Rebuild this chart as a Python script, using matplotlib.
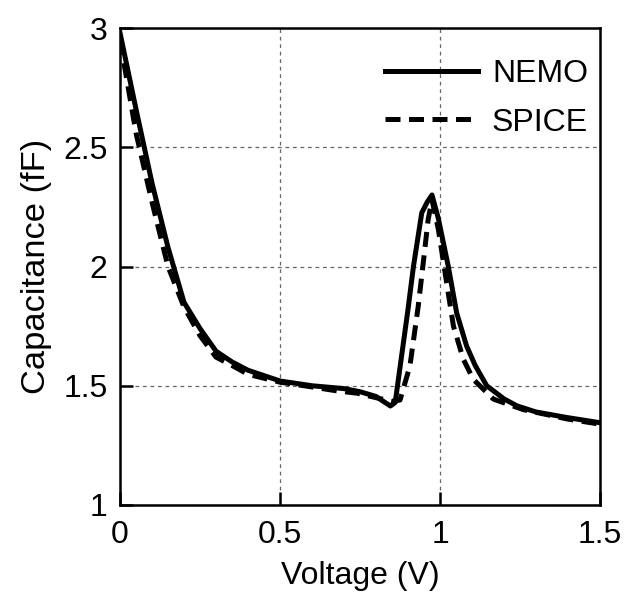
import matplotlib

matplotlib.use("Agg")
import matplotlib.pyplot as plt

plt.rcParams["font.family"] = ["Liberation Sans", "DejaVu Sans"]

# NEMO (solid)
nemo_v = [0.0, 0.05, 0.1, 0.15, 0.2, 0.25, 0.3, 0.35, 0.4, 0.5, 0.6, 0.7,
          0.75, 0.8, 0.845, 0.86, 0.9, 0.917, 0.943, 0.96, 0.975, 0.995,
          1.026, 1.052, 1.083, 1.11, 1.146, 1.2, 1.24, 1.3, 1.396, 1.5]
nemo_c = [2.98, 2.66, 2.35, 2.08, 1.85, 1.74, 1.645, 1.60, 1.565, 1.52, 1.50,
          1.488, 1.475, 1.455, 1.415, 1.43, 1.82, 2.0, 2.225, 2.27, 2.30, 2.20,
          2.0, 1.806, 1.667, 1.585, 1.50, 1.445, 1.416, 1.39, 1.367, 1.345]

# SPICE (dashed)
spice_v = [0.0, 0.05, 0.1, 0.15, 0.2, 0.25, 0.3, 0.35, 0.4, 0.5, 0.6, 0.68,
           0.74, 0.8, 0.85, 0.875, 0.906, 0.932, 0.95, 0.963, 0.975, 0.995,
           1.021, 1.042, 1.073, 1.104, 1.167, 1.26, 1.4, 1.5]
spice_c = [2.95, 2.56, 2.27, 2.00, 1.83, 1.71, 1.62, 1.585, 1.548, 1.515,
           1.495, 1.478, 1.469, 1.45, 1.435, 1.44, 1.583, 1.834, 2.043, 2.197,
           2.28, 2.155, 1.93, 1.75, 1.611, 1.527, 1.444, 1.40, 1.36, 1.339]

xticks = [0, 0.5, 1, 1.5]
xtick_labels = ["0", "0.5", "1", "1.5"]
yticks = [1, 1.5, 2, 2.5, 3]
ytick_labels = ["1", "1.5", "2", "2.5", "3"]


def main():
    fig = plt.figure(figsize=(6.28, 6.0), dpi=100)
    ax = fig.add_axes([120 / 628, 1 - 505 / 600, 480 / 628, 477 / 600])

    ax.plot(nemo_v, nemo_c, color="black", lw=3.6, label="NEMO",
            solid_joinstyle="round")
    ax.plot(spice_v, spice_c, color="black", lw=3.6, ls=(0, (3.0, 1.7)),
            label="SPICE")

    ax.set_xlim(0, 1.5)
    ax.set_ylim(1, 3)
    ax.set_xticks(xticks)
    ax.set_xticklabels(xtick_labels)
    ax.set_yticks(yticks)
    ax.set_yticklabels(ytick_labels)
    ax.tick_params(direction="in", length=9.5, width=1.8, labelsize=23)
    ax.tick_params(axis="x", pad=10.5)
    ax.tick_params(axis="y", pad=9)
    for s in ax.spines.values():
        s.set_linewidth(1.8)

    ax.grid(True, color="#666666", lw=0.9, ls=(0, (3, 3)))

    ax.set_xlabel("Voltage (V)", fontsize=23, labelpad=8)
    ax.set_ylabel("Capacitance (fF)", fontsize=24.8, labelpad=8)

    ax.legend(loc="upper right", frameon=False, fontsize=23,
              handlelength=2.9, handletextpad=0.45, labelspacing=0.58,
              borderaxespad=0.2, bbox_to_anchor=(1.015, 0.975))

    fig.savefig("out.png", dpi=100)


if __name__ == "__main__":
    main()
